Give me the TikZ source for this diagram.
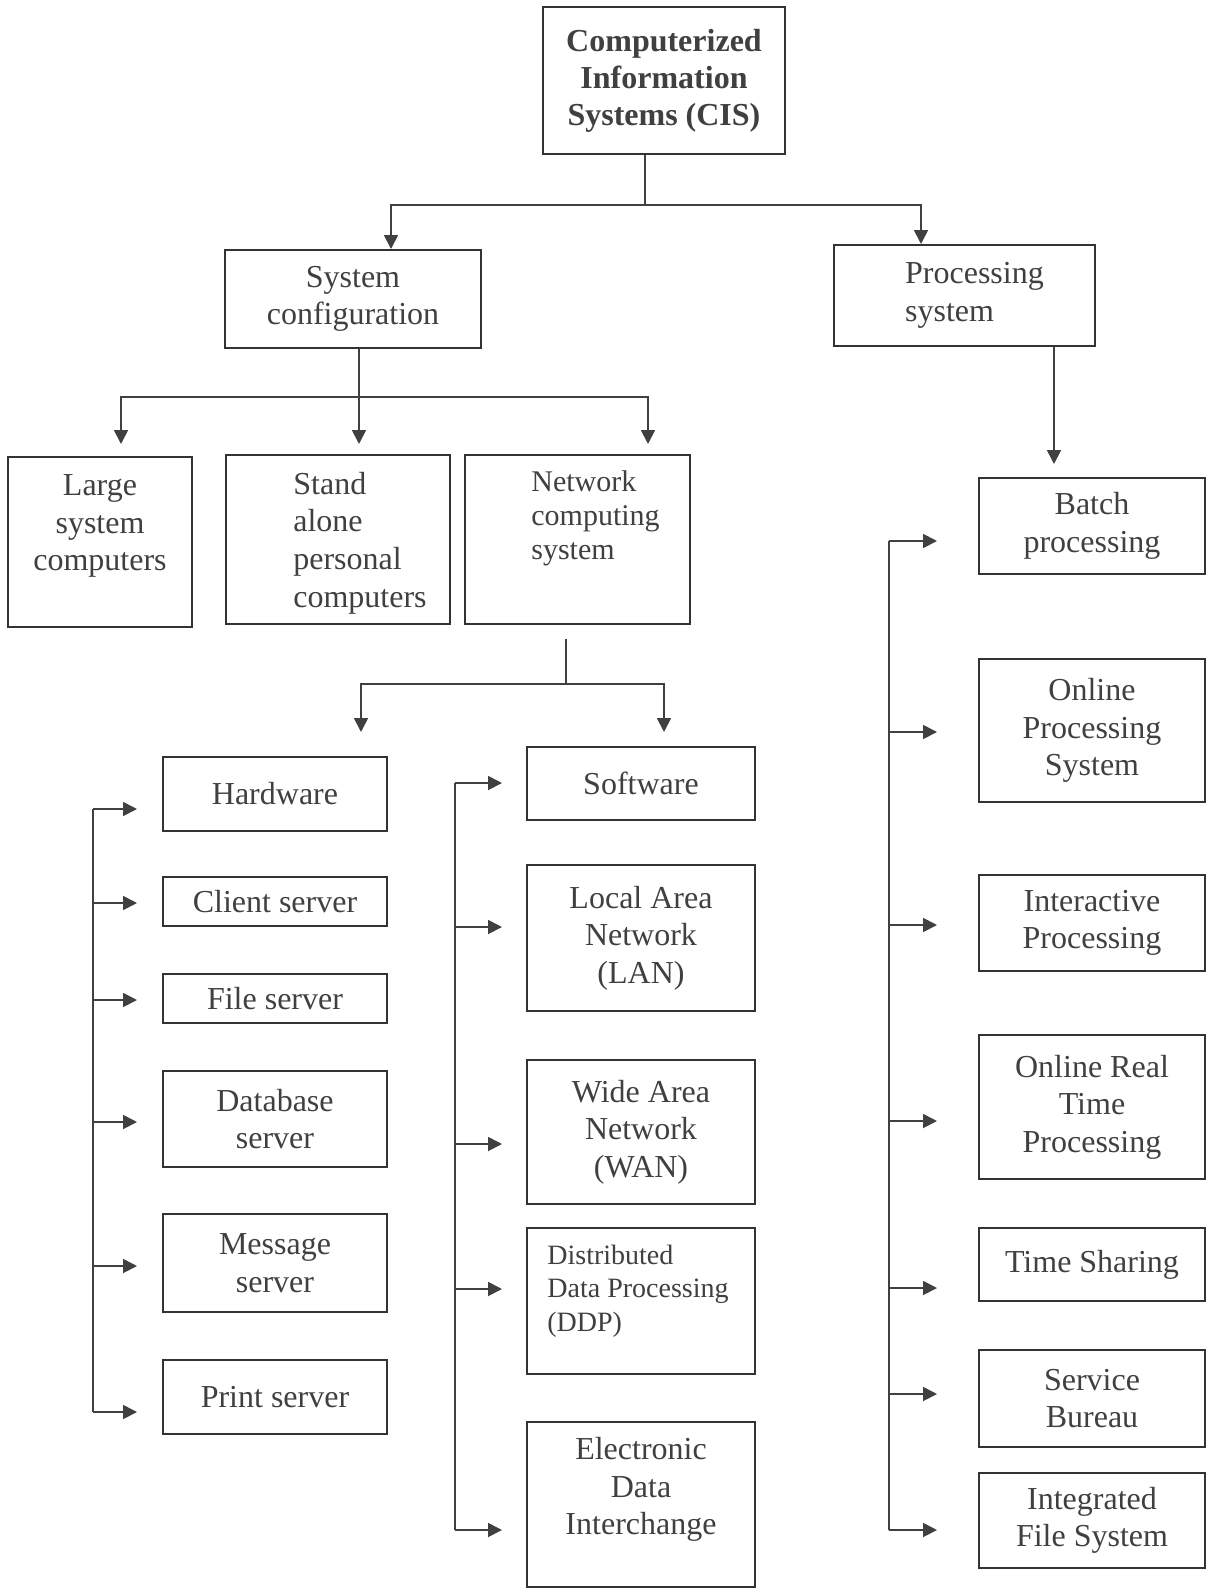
\documentclass[tikz,border=0pt]{standalone}
\usepackage{fontspec}
\setmainfont{Liberation Serif}
\usetikzlibrary{arrows.meta}

\begin{document}
\begin{tikzpicture}[x=0.5pt, y=-0.5pt,
  box/.style={draw=black!80, line width=1pt, inner sep=0pt, text=black!75, align=center, font=\fontsize{16}{18.8}\selectfont},
  txt/.style={text=black!75, inner sep=0pt, font=\fontsize{16}{18.8}\selectfont},
  link/.style={draw=black!75, line width=0.9pt},
  arr/.style={link, -{Triangle[length=7pt,width=7pt]}}]
\useasboundingbox (0,0) rectangle (1207,1591);
\fill[white] (0,0) rectangle (1207,1591);

\node[box, minimum width=121pt, minimum height=73.5pt, font=\bfseries\fontsize{16}{18.5}\selectfont] (cis) at (664,80.5) {Computerized\\Information\\Systems (CIS)};
\node[box, minimum width=128pt, minimum height=49pt] (syscfg) at (353,299) {System\\configuration};
\node[box, minimum width=130.5pt, minimum height=50.5pt, label={[txt, align=left, xshift=5pt]center:Processing\\system}] (procsys) at (964.5,295.5) {};

\node[box, minimum width=92pt, minimum height=85pt, label={[txt, align=center, yshift=8pt]center:Large\\system\\computers}] (large) at (100,542) {};
\node[box, minimum width=112pt, minimum height=84.5pt, label={[txt, align=left, xshift=11pt, yshift=-1.75pt]center:Stand\\alone\\personal\\computers}] (stand) at (338,539.5) {};
\node[box, minimum width=112.5pt, minimum height=84.5pt, label={[txt, align=left, xshift=9pt, yshift=10.5pt, font=\fontsize{15}{17}\selectfont]center:Network\\computing\\system}] (net) at (577.5,539.5) {};

\node[box, minimum width=112pt, minimum height=37pt] (hw) at (275,794) {Hardware};
\node[box, minimum width=112pt, minimum height=24.5pt] (client) at (275,901.5) {Client server};
\node[box, minimum width=112pt, minimum height=24.5pt] (file) at (275,998.5) {File server};
\node[box, minimum width=112pt, minimum height=48pt] (db) at (275,1119) {Database\\server};
\node[box, minimum width=112pt, minimum height=49pt] (msg) at (275,1263) {Message\\server};
\node[box, minimum width=112pt, minimum height=37pt] (print) at (275,1397) {Print server};

\node[box, minimum width=114pt, minimum height=36.5pt] (sw) at (641,783.5) {Software};
\node[box, minimum width=114pt, minimum height=73pt] (lan) at (641,938) {Local Area\\Network\\(LAN)};
\node[box, minimum width=114pt, minimum height=72pt] (wan) at (641,1132) {Wide Area\\Network\\(WAN)};
\node[box, minimum width=114pt, minimum height=73pt, label={[txt, align=left, xshift=-1.5pt, yshift=5pt, font=\fontsize{14}{16.7}\selectfont]center:Distributed\\Data Processing\\(DDP)}] (ddp) at (641,1301) {};
\node[box, minimum width=114pt, minimum height=82.5pt, label={[txt, align=center, yshift=7.5pt]center:Electronic\\Data\\Interchange}] (edi) at (641,1504.5) {};

\node[box, minimum width=113pt, minimum height=48pt] (batch) at (1092,526) {Batch\\processing};
\node[box, minimum width=113pt, minimum height=71.5pt] (onl) at (1092,730.5) {Online\\Processing\\System};
\node[box, minimum width=113pt, minimum height=48pt] (inter) at (1092,923) {Interactive\\Processing};
\node[box, minimum width=113pt, minimum height=72pt] (ortp) at (1092,1107) {Online Real\\Time\\Processing};
\node[box, minimum width=113pt, minimum height=36.5pt] (ts) at (1092,1264.5) {Time Sharing};
\node[box, minimum width=113pt, minimum height=48.5pt] (sb) at (1092,1398.5) {Service\\Bureau};
\node[box, minimum width=113pt, minimum height=47.5pt] (ifs) at (1092,1520.5) {Integrated\\File System};

\coordinate (cisj) at (645,205);
\draw[link] (cisj |- cis.south) -- (cisj);
\draw[arr] (cisj) -| (391,0 |- syscfg.north);
\draw[arr] (cisj) -| (921,0 |- procsys.north);

\coordinate (cfgj) at (359,397);
\draw[link] (cfgj |- syscfg.south) -- (cfgj);
\draw[arr, shorten >=6pt] (cfgj) -| (121,0 |- large.north);
\draw[arr, shorten >=5pt] (cfgj) -- (cfgj |- stand.north);
\draw[arr, shorten >=5pt] (cfgj) -| (648,0 |- net.north);

\coordinate (netj) at (566,684);
\draw[link, shorten <=7pt] (netj |- net.south) -- (netj);
\draw[arr, shorten >=12pt] (netj) -| (361,0 |- hw.north);
\draw[arr, shorten >=7pt] (netj) -| (664,0 |- sw.north);

\draw[arr, shorten >=6.5pt] (1054,0 |- procsys.south) -- (1054,0 |- batch.north);

\coordinate (hwtop) at (93,809);
\coordinate (hwbot) at (93,1412);
\draw[link] (hwtop) -- (hwbot);
\draw[arr, shorten >=12.5pt] (hwtop) -- (hw.west |- hwtop);
\draw[arr, shorten >=12.5pt] (hwtop |- 0,903) -- (client.west |- 0,903);
\draw[arr, shorten >=12.5pt] (hwtop |- 0,1000) -- (file.west |- 0,1000);
\draw[arr, shorten >=12.5pt] (hwtop |- 0,1122) -- (db.west |- 0,1122);
\draw[arr, shorten >=12.5pt] (hwtop |- 0,1266) -- (msg.west |- 0,1266);
\draw[arr, shorten >=12.5pt] (hwbot) -- (print.west |- hwbot);

\coordinate (swtop) at (455,783);
\coordinate (swbot) at (455,1530);
\draw[link] (swtop) -- (swbot);
\draw[arr, shorten >=12pt] (swtop) -- (sw.west |- swtop);
\draw[arr, shorten >=12pt] (swtop |- 0,927) -- (lan.west |- 0,927);
\draw[arr, shorten >=12pt] (swtop |- 0,1144) -- (wan.west |- 0,1144);
\draw[arr, shorten >=12pt] (swtop |- 0,1289) -- (ddp.west |- 0,1289);
\draw[arr, shorten >=12pt] (swbot) -- (edi.west |- swbot);

\coordinate (pstop) at (889,541);
\coordinate (psbot) at (889,1530);
\draw[link] (pstop) -- (psbot);
\draw[arr, shorten >=20.5pt] (pstop) -- (batch.west |- pstop);
\draw[arr, shorten >=20.5pt] (pstop |- 0,732) -- (onl.west |- 0,732);
\draw[arr, shorten >=20.5pt] (pstop |- 0,925) -- (inter.west |- 0,925);
\draw[arr, shorten >=20.5pt] (pstop |- 0,1121) -- (ortp.west |- 0,1121);
\draw[arr, shorten >=20.5pt] (pstop |- 0,1288) -- (ts.west |- 0,1288);
\draw[arr, shorten >=20.5pt] (pstop |- 0,1394) -- (sb.west |- 0,1394);
\draw[arr, shorten >=20.5pt] (psbot) -- (ifs.west |- psbot);
\end{tikzpicture}
\end{document}
